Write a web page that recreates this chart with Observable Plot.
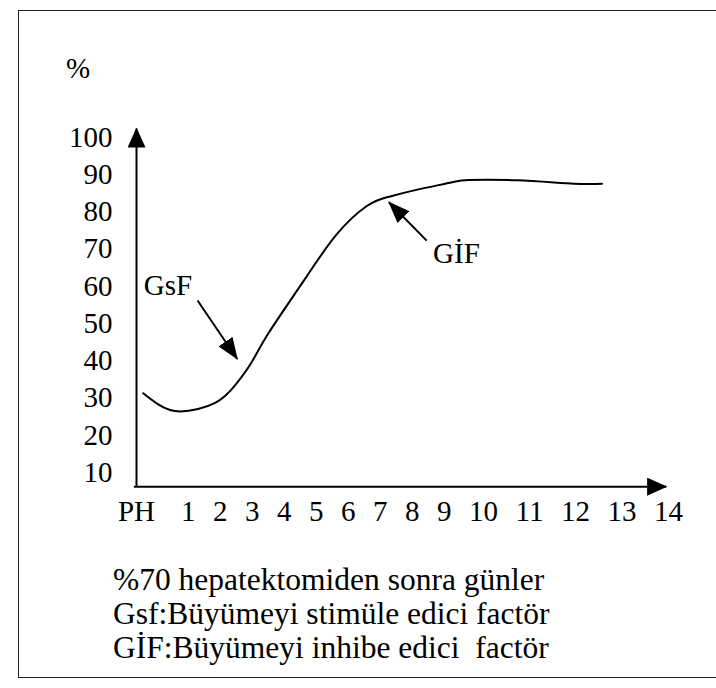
<!DOCTYPE html>
<html>
<head>
<meta charset="utf-8">
<script src="https://cdn.jsdelivr.net/npm/d3@7"></script>
<script src="https://cdn.jsdelivr.net/npm/@observablehq/plot@0.6"></script>
<style>
  html, body { margin: 0; padding: 0; background: #fff; overflow: hidden; width: 716px; height: 688px; }
  #page { position: relative; width: 716px; height: 688px; font-family: 'Liberation Serif', 'Times New Roman', serif; color: #000; }
  #box { position: absolute; left: 18px; top: 10px; width: 760px; height: 668px; border: 1.5px solid #222; box-sizing: border-box; }
  #unit { position: absolute; left: 66px; top: 51px; font-size: 29px; line-height: 34px; }
  #chart { position: absolute; left: 0; top: 100px; }
  #caption { position: absolute; left: 113px; top: 563px; font-size: 31.5px; line-height: 34px; white-space: pre; }
</style>
</head>
<body>
<div id="page">
  <div id="box"></div>
  <div id="unit"></div>
  <div id="chart"></div>
  <div id="caption"></div>
</div>
<script>
// ---- data ----
const unitLabel = "%";
const yTicks = [10, 20, 30, 40, 50, 60, 70, 80, 90, 100];
const xTickValues = [0, 1, 2, 3, 4, 5, 6, 7, 8, 9, 10, 11, 12, 13, 14];
const xTickLabels = ["PH", "1", "2", "3", "4", "5", "6", "7", "8", "9", "10", "11", "12", "13", "14"];

// curve: day after hepatectomy vs percent
const curveDays    = [0.13, 0.42, 0.85, 1.84, 2.48, 2.95, 3.52, 4.6, 5.61, 6.58, 7.23, 8.06, 9.2, 9.62, 10.72, 11.97, 12.57];
const curvePercent = [31.3, 28.3, 26.4, 28.7, 33.6, 39.2, 47.6, 61.4, 73.7, 81.6, 84.0, 85.8, 88.0, 88.6, 88.5, 87.6, 87.6];

// annotations
const annotLabels   = ["GsF", "GİF"];
const annotTextDay  = [0.14, 8.65];
const annotTextPct  = [60.3, 68.8];
const arrowFromDay  = [1.29, 8.45];
const arrowFromPct  = [56.2, 72.3];
const arrowToDay    = [2.53, 7.27];
const arrowToPct    = [40.5, 82.6];

// axis extents (in data units)
const xAxisFrom = -0.05, xAxisTo = 13.95;
const yAxisFrom = 6.2,  yAxisTo = 102.4;

const captionLines = [
  "%70 hepatektomiden sonra günler",
  "Gsf:Büyümeyi stimüle edici factör",
  "GİF:Büyümeyi inhibe edici  factör"
];

// ---- layout helpers ----
const FONT = "'Liberation Serif', 'Times New Roman', serif";
const FS = 29;

// x tick positions follow the typed-text flow of the labels
const ctx = document.createElement("canvas").getContext("2d");
ctx.font = `${FS}px 'Liberation Serif'`;
const widths = xTickLabels.map(t => ctx.measureText(t).width);
const gap = 17.5, leadGap = 26;
const xRange = [136];
for (let i = 1; i < widths.length; i++) {
  xRange.push(xRange[i - 1] + (widths[i - 1] + widths[i]) / 2 + (i === 1 ? leadGap : gap));
}

function filledHead(len, wid) {
  return (color) => {
    const m = d3.create("svg:marker")
      .attr("viewBox", `0 ${-wid / 2} ${len} ${wid}`)
      .attr("markerWidth", len).attr("markerHeight", wid)
      .attr("markerUnits", "userSpaceOnUse")
      .attr("refX", len - 1).attr("refY", 0)
      .attr("orient", "auto")
      .attr("fill", color).attr("stroke", "none");
    m.append("path").attr("d", `M0,${-wid / 2}L${len},0L0,${wid / 2}Z`);
    return m.node();
  };
}

const curve = curveDays.map((d, i) => ({day: d, pct: curvePercent[i]}));
const annots = annotLabels.map((l, i) => ({
  label: l, tx: annotTextDay[i], ty: annotTextPct[i],
  x1: arrowFromDay[i], y1: arrowFromPct[i], x2: arrowToDay[i], y2: arrowToPct[i]
}));
const axes = [
  {x1: 0, y1: yAxisFrom, x2: 0, y2: yAxisTo},
  {x1: xAxisFrom, y1: yAxisFrom, x2: xAxisTo, y2: yAxisFrom}
];

const chart = Plot.plot({
  width: 716,
  height: 450,
  marginLeft: 136,
  marginRight: 40,
  marginTop: 20,
  marginBottom: 64,
  x: {type: "linear", domain: xTickValues, range: xRange, label: null},
  y: {type: "linear", domain: [10, 100], range: [372, 37], label: null},
  style: {fontFamily: FONT, fontSize: FS + "px", color: "#000", background: "transparent", overflow: "visible"},
  marks: [
    Plot.axisY(yTicks, {tickSize: 0, tickPadding: 24, fontSize: FS, label: null}),
    Plot.axisX(xTickValues, {tickSize: 0, tickPadding: 14, fontSize: FS, label: null, tickFormat: (d) => xTickLabels[d]}),
    Plot.link(axes, {x1: "x1", y1: "y1", x2: "x2", y2: "y2", stroke: "#000", strokeWidth: 2, markerEnd: filledHead(20, 18)}),
    Plot.line(curve, {x: "day", y: "pct", curve: "natural", stroke: "#000", strokeWidth: 2}),
    Plot.link(annots, {x1: "x1", y1: "y1", x2: "x2", y2: "y2", stroke: "#000", strokeWidth: 2, markerEnd: filledHead(22, 17)}),
    Plot.text(annots, {x: "tx", y: "ty", text: "label", textAnchor: "start", fontSize: FS, fill: "#000"})
  ]
});
document.getElementById("chart").appendChild(chart);
document.getElementById("unit").textContent = unitLabel;
document.getElementById("caption").textContent = captionLines.join("\n");
</script>
</body>
</html>
